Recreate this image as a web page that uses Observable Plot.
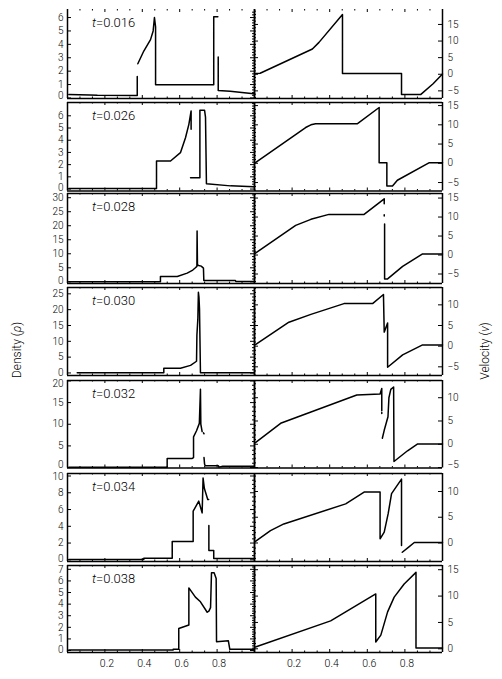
<!DOCTYPE html>
<html><head><meta charset="utf-8">
<script src="https://cdn.jsdelivr.net/npm/d3@7"></script>
<script src="https://cdn.jsdelivr.net/npm/@observablehq/plot@0.6"></script>
<style>
body{margin:0;background:#fff}
#fig{position:relative;width:502px;height:679px;overflow:hidden;font-family:Roboto,"DejaVu Sans",sans-serif;color:#000}
#fig svg{position:absolute;left:0}
.tl{position:absolute;left:92px;font-size:13px;font-weight:300;transform:translateY(-50%);white-space:nowrap}
.yt{position:absolute;font-size:12px;font-weight:300;transform:translate(-50%,-50%) rotate(-90deg);white-space:nowrap}
</style>
</head><body><div id="fig"></div>
<script>
// ---- data (x, value); null value = gap in the curve ----
const times = ["0.016","0.026","0.028","0.030","0.032","0.034","0.038"];

const rho016 = [[0.007,0.25],[0.12,0.22],[0.16,0.2],[0.373,0.18],[0.373,1.6],[0.374,null],[0.376,2.55],[0.408,3.5],[0.444,4.35],[0.458,5.0],[0.465,6.0],[0.471,5.3],[0.471,0.98],[0.782,0.98],[0.782,6.05],[0.804,6.05],[0.805,null],[0.806,3.05],[0.806,0.56],[0.87,0.5],[0.996,0.31]];
const v016 = [[0.005,0.2],[0.03,0.3],[0.308,7.6],[0.343,9.6],[0.468,18.0],[0.468,0.2],[0.782,0.2],[0.782,-6.06],[0.885,-6.06],[0.95,-2.85],[1.0,0.1]];

const rho026 = [[0.007,0.05],[0.476,0.05],[0.476,2.3],[0.551,2.3],[0.604,2.98],[0.631,4.2],[0.649,5.3],[0.661,6.4],[0.661,4.9],[0.662,null],[0.658,0.93],[0.708,0.93],[0.708,6.45],[0.733,6.45],[0.738,5.9],[0.743,0.43],[0.872,0.26],[0.996,0.18]];
const v026 = [[0.005,0.16],[0.272,9.3],[0.3,10.0],[0.325,10.3],[0.548,10.3],[0.663,14.5],[0.663,14.0],[0.663,0.16],[0.704,0.16],[0.704,-5.9],[0.734,-5.9],[0.76,-4.4],[0.93,0.16],[1.0,0.16]];

const rho028 = [[0.007,0.05],[0.497,0.05],[0.497,1.9],[0.587,1.9],[0.640,3.1],[0.670,4.2],[0.684,5.0],[0.692,5.5],[0.693,18.1],[0.695,6.0],[0.702,5.8],[0.715,5.6],[0.727,4.9],[0.729,0.5],[0.898,0.45],[0.900,0.1],[0.996,0.1]];
const v028 = [[0.005,0.47],[0.219,7.8],[0.30,9.4],[0.396,10.7],[0.583,10.7],[0.690,14.8],[0.690,13.5],[0.691,null],[0.690,10.6],[0.690,10.3],[0.691,null],[0.692,8.2],[0.692,-6.3],[0.708,-6.3],[0.788,-3.0],[0.894,0.3],[1.0,0.3]];

const rho030 = [[0.052,0.05],[0.515,0.05],[0.515,1.5],[0.604,1.5],[0.658,2.4],[0.690,3.7],[0.692,12],[0.697,17],[0.700,25.5],[0.703,24],[0.706,20],[0.711,0.05],[0.996,0.05]];
const v030 = [[0.005,0.4],[0.183,5.8],[0.30,7.7],[0.476,10.3],[0.628,10.3],[0.686,12.5],[0.690,3.4],[0.708,5.6],[0.708,-5.1],[0.788,-2.1],[0.894,0.3],[1.0,0.3]];

const rho032 = [[0.007,0.05],[0.533,0.05],[0.533,2.1],[0.667,2.1],[0.674,2.3],[0.674,7.1],[0.69,8.5],[0.705,10.2],[0.711,18.1],[0.713,10],[0.72,8.3],[0.722,null],[0.727,8.0],[0.73,7.8],[0.731,null],[0.73,2.3],[0.733,0.8],[0.736,0.4],[0.807,0.4],[0.81,0.1],[0.83,0.3],[0.996,0.3]];
const v032 = [[0.005,0.35],[0.139,4.5],[0.544,10.6],[0.668,10.8],[0.677,12],[0.677,7.2],[0.678,null],[0.677,6.8],[0.677,6.6],[0.679,null],[0.680,1.3],[0.69,3],[0.71,5.9],[0.715,10],[0.725,11.8],[0.74,12.3],[0.742,-3.7],[0.814,-1.4],[0.868,0.06],[1.0,0.06]];

const rho034 = [[0.007,0.05],[0.408,0.05],[0.408,0.2],[0.560,0.2],[0.560,2.2],[0.672,2.2],[0.672,5.8],[0.702,7.0],[0.72,5.6],[0.725,9.75],[0.732,8.5],[0.750,7.2],[0.755,7.2],[0.756,null],[0.756,4.1],[0.756,1.1],[0.782,1.1],[0.782,0.15],[0.996,0.15]];
const v034 = [[0.005,0.3],[0.085,2.4],[0.156,3.7],[0.485,7.6],[0.583,9.9],[0.668,9.9],[0.668,0.8],[0.690,2.1],[0.711,5.7],[0.729,9.6],[0.782,12.4],[0.782,-0.5],[0.784,null],[0.786,-1.8],[0.82,-0.8],[0.85,0.1],[1.0,0.1]];

const rho038 = [[0.007,0.05],[0.565,0.05],[0.565,0.12],[0.595,0.12],[0.595,1.9],[0.649,2.2],[0.649,5.4],[0.684,4.6],[0.711,4.2],[0.747,3.3],[0.756,3.4],[0.765,3.7],[0.770,6.7],[0.784,6.7],[0.795,6.2],[0.797,0.75],[0.86,0.85],[0.868,0.1],[0.996,0.1]];
const v038 = [[0.005,0.35],[0.405,5.3],[0.645,10.4],[0.645,1.3],[0.672,2.6],[0.708,7.0],[0.743,9.8],[0.796,12.3],[0.859,14.5],[0.859,0.15],[1.0,0.15]];

const rhoSeries = [rho016, rho026, rho028, rho030, rho032, rho034, rho038];
const vSeries = [v016, v026, v028, v030, v032, v034, v038];

// tick labels
const xTicks = [0.2, 0.4, 0.6, 0.8];
const rhoTicks = [[0,1,2,3,4,5,6],[0,1,2,3,4,5,6],[0,5,10,15,20,25,30],[0,5,10,15,20,25],[0,5,10,15,20],[0,2,4,6,8,10],[0,1,2,3,4,5,6,7]];
const vTicks = [[-5,0,5,10,15],[-5,0,5,10,15],[-5,0,5,10,15],[-5,0,5,10],[-5,0,5,10],[0,5,10],[0,5,10,15]];

// ---- layout ----
const rows = [[9,98],[101.5,190],[193,283],[287,375],[380,467.5],[473,561],[565,652]];
const rhoDom = [[-0.04,6.6],[-0.16,7.09],[-0.6,31.5],[-0.8,27],[-0.1,20.1],[-0.2,10.3],[-0.17,7.33]];
const vDom = [[-7.3,19.5],[-7.2,15.8],[-7.5,16.2],[-7.1,14.2],[-5.1,13.7],[-3.6,13.5],[-0.7,15.8]];
const rhoMinorStep = [0.2,0.2,1,1,1,0.5,0.2];

const fig = document.getElementById("fig");
const fmt = d => d < 0 ? "\u2212" + Math.abs(d) : String(d);
const xMinor = d3.range(1, 15).map(k => k / 15).filter((d, i) => (i + 1) % 3 !== 0);

function panel(i, col) {
  const [top, bottom] = rows[i];
  const W = 502, mT = 10, showX = i === rows.length - 1, mB = showX ? 30 : 10;
  const mL = col === 0 ? 67 : 254, mR = col === 0 ? 248 : 60;
  const fw = W - mL - mR, fh = bottom - top;
  const dom = col === 0 ? rhoDom[i] : vDom[i];
  const data = col === 0 ? rhoSeries[i] : vSeries[i];
  const majors = col === 0 ? rhoTicks[i] : vTicks[i];
  const mstep = col === 0 ? rhoMinorStep[i] : 1;
  const minors = d3.range(Math.ceil(dom[0] / mstep) * mstep, dom[1], mstep).filter(d => !majors.some(m => Math.abs(m - d) < 1e-6));
  const upp = (dom[1] - dom[0]) / fh; // data units per pixel
  const labelY = d => Math.max(dom[0] + 3 * upp, Math.min(dom[1] - 3.5 * upp, d));
  const outer = col === 0 ? {insetRight: fw - 4} : {insetLeft: fw - 4};
  const innerMaj = col === 0 ? {insetLeft: fw - 4} : {insetRight: fw - 4};
  const innerMin = col === 0 ? {insetLeft: fw - 2} : {insetRight: fw - 2};
  const marks = [
    Plot.ruleX([0, 1], {stroke: "#000", strokeWidth: 1.5}),
    Plot.ruleY(i === 0 ? [dom[0]] : dom, {stroke: "#000", strokeWidth: 1.5}),
    Plot.tickY(majors, {y: d => d, ...outer, stroke: "#000"}),
    Plot.tickY(majors, {y: d => d, ...innerMaj, stroke: "#000"}),
    Plot.tickY(minors, {y: d => d, ...innerMin, stroke: "#000"}),
    Plot.tickX(xTicks, {x: d => d, insetTop: fh - 3, stroke: "#000"}),
    Plot.tickX(xTicks, {x: d => d, insetBottom: fh - 3, stroke: "#000"}),
    Plot.tickX(xMinor, {x: d => d, insetTop: fh - 1.5, stroke: "#000"}),
    Plot.tickX(xMinor, {x: d => d, insetBottom: fh - 1.5, stroke: "#000"}),
    Plot.line(data, {x: d => d[0], y: d => d[1], stroke: "#000", strokeWidth: 1.5}),
    Plot.text(majors, {y: labelY, text: fmt, frameAnchor: col === 0 ? "left" : "right",
      dx: col === 0 ? -4 : 5, textAnchor: col === 0 ? "end" : "start", fill: "#000"})
  ];
  if (showX) marks.push(Plot.text(xTicks, {x: d => d, text: d => d.toFixed(1), frameAnchor: "bottom", dy: 14, dx: 2, fill: "#000", fontSize: "10.5px"}));
  const svg = Plot.plot({
    width: W, height: fh + mT + mB,
    marginLeft: mL, marginRight: mR, marginTop: mT, marginBottom: mB,
    x: {domain: [0, 1], axis: null},
    y: {domain: dom, axis: null},
    style: {background: "transparent", overflow: "visible", fontFamily: "Roboto, 'DejaVu Sans', sans-serif", fontSize: "10px", fontWeight: 300},
    marks
  });
  svg.style.top = (top - mT) + "px";
  fig.appendChild(svg);
}

rows.forEach((r, i) => {
  panel(i, 0);
  panel(i, 1);
  const t = document.createElement("div");
  t.className = "tl";
  t.style.top = (r[0] + 13) + "px";
  t.innerHTML = "<i>t</i>=" + times[i];
  fig.appendChild(t);
});

const yl = document.createElement("div");
yl.className = "yt"; yl.style.left = "17px"; yl.style.top = "350px";
yl.innerHTML = "Density (<i>\u03c1</i>)";
fig.appendChild(yl);
const yr = document.createElement("div");
yr.className = "yt"; yr.style.left = "485px"; yr.style.top = "351px";
yr.innerHTML = "Velocity (<i>v</i>)";
fig.appendChild(yr);
</script>
</body></html>
